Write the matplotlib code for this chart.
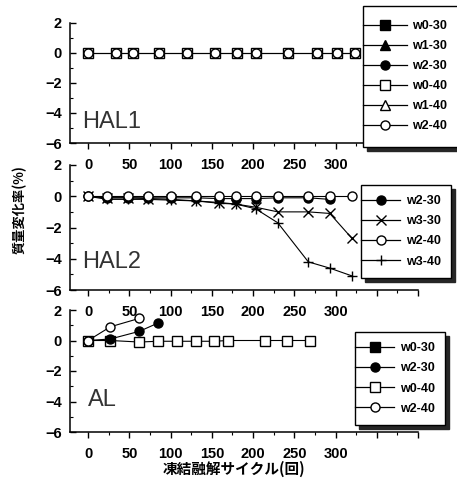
import matplotlib
matplotlib.use("Agg")
import numpy as np
import matplotlib.pyplot as plt
from matplotlib.ticker import MultipleLocator
from matplotlib.lines import Line2D
from matplotlib.legend_handler import HandlerLine2D

plt.rcParams['font.family'] = ['Liberation Sans', 'Noto Sans CJK JP', 'DejaVu Sans']

# ---------------- data ----------------
# HAL1
hal1_x = [0, 34, 55, 86, 120, 154, 181, 204, 242, 277, 302, 324]
hal1_w0_40 = [0, 0, 0, 0, 0, 0, 0, 0, 0, 0, 0, 0]
hal1_w2_40 = [0, 0, 0, 0, 0, 0, 0, 0, 0, 0, 0, 0]

# HAL2
hal2_x = [0, 23, 48, 73, 101, 131, 159, 179, 203, 230, 267, 293, 320]
hal2_w2_30 = [0, -0.1, -0.1, -0.1, -0.1, -0.1, -0.15, -0.15, -0.15, -0.1, -0.1, -0.2]
hal2_w3_30 = [0, -0.1, -0.1, -0.15, -0.2, -0.3, -0.45, -0.5, -0.7, -1.0, -1.0, -1.1, -2.7]
hal2_w2_40 = [0, 0, 0, 0, 0, 0, 0, 0, 0, 0, 0, 0, 0]
hal2_w3_40 = [0, -0.2, -0.2, -0.2, -0.25, -0.3, -0.4, -0.5, -0.8, -1.7, -4.2, -4.6, -5.1]

# AL
al_w0_40_x = [0, 27, 62, 85, 108, 131, 153, 170, 214, 241, 269]
al_w0_40 = [0, 0, -0.1, -0.05, -0.05, -0.05, -0.05, 0, 0, 0, 0]
al_w2_30_x = [0, 27, 62, 85]
al_w2_30 = [0, 0.1, 0.6, 1.15]
al_w2_40_x = [0, 27, 62]
al_w2_40 = [0, 0.9, 1.45]

xticks = [0, 50, 100, 150, 200, 250, 300, 350, 400]
xticklabels = ['0', '50', '100', '150', '200', '250', '300', '', '']
yticks = [-6, -4, -2, 0, 2]
panel_names = ['HAL1', 'HAL2', 'AL']

# ---------------- figure ----------------
W, H = 457, 483
fig = plt.figure(figsize=(W / 100, H / 100), dpi=100)

def fx(px):
    return px / W

def fy(py):
    return 1 - py / H

left = fx(70)
width = fx(418) - fx(70)
panels_px = [(23, 143), (165, 290), (310, 432)]
axes = []
for (top, bot) in panels_px:
    ax = fig.add_axes([left, fy(bot), width, (bot - top) / H])
    axes.append(ax)

tick_font = dict(family='Liberation Sans', weight='bold', size=10.5)

for ax, name in zip(axes, panel_names):
    ax.set_xlim(-22, 400)
    ax.set_ylim(-6, 2)
    for s in ['top', 'right']:
        ax.spines[s].set_visible(False)
    for s in ['left', 'bottom']:
        ax.spines[s].set_linewidth(1.1)
    ax.set_xticks(xticks)
    ax.set_xticklabels(xticklabels, fontdict=tick_font)
    ax.xaxis.set_minor_locator(MultipleLocator(25))
    ax.set_yticks(yticks)
    ax.set_yticklabels([str(v).replace('-', '\u2212') for v in yticks], fontdict=tick_font)
    ax.yaxis.set_minor_locator(MultipleLocator(1))
    ax.tick_params(axis='x', which='major', direction='out', length=4, width=1.0, pad=7)
    ax.tick_params(axis='x', which='minor', direction='out', length=2.5, width=0.8)
    ax.tick_params(axis='y', which='major', direction='in', length=4, width=1.0, pad=6)
    ax.tick_params(axis='y', which='minor', direction='in', length=2.5, width=0.8)
    ax.patch.set_alpha(0)

ms = 6.5
lw = 0.8
open_kw = dict(color='black', lw=lw, markerfacecolor='white', markeredgecolor='black',
               markersize=ms, markeredgewidth=1.0)
fill_kw = dict(color='black', lw=lw, markerfacecolor='black', markeredgecolor='black',
               markersize=ms, markeredgewidth=1.0)

# Panel 1
ax = axes[0]
ax.plot(hal1_x, hal1_w0_40, marker='s', zorder=3, **open_kw)
ax.plot(hal1_x, hal1_w2_40, marker='o', zorder=4, **open_kw)
ax.text(-7, -5.0, 'HAL1', fontsize=17, family='Liberation Sans', color='#333333')

# Panel 2
ax = axes[1]
ax.plot(hal2_x[:len(hal2_w2_30)], hal2_w2_30, marker='o', zorder=2, **fill_kw)
ax.plot(hal2_x, hal2_w3_30, marker='x', zorder=3, **open_kw)
ax.plot(hal2_x, hal2_w3_40, marker='+', zorder=3, **open_kw)
ax.plot(hal2_x, hal2_w2_40, marker='o', zorder=4, **open_kw)
ax.text(-7, -4.6, 'HAL2', fontsize=17, family='Liberation Sans', color='#333333')

# Panel 3
ax = axes[2]
ax.plot(al_w0_40_x, al_w0_40, marker='s', zorder=3, **open_kw)
ax.plot(al_w2_30_x, al_w2_30, marker='o', zorder=4, **fill_kw)
ax.plot(al_w2_40_x, al_w2_40, marker='o', zorder=4, **open_kw)
ax.text(0, -4.3, 'AL', fontsize=17, family='Liberation Sans', color='#333333')

# ---------------- legends ----------------
LEG_FS = 9.0


class ExtHandler(HandlerLine2D):
    """Line handle that reaches left to the legend frame."""
    def __init__(self, ext, **kw):
        super().__init__(**kw)
        self.ext = ext

    def create_artists(self, legend, orig_handle, xdescent, ydescent, width, height,
                       fontsize, trans):
        arts = super().create_artists(legend, orig_handle, xdescent, ydescent, width,
                                      height, fontsize, trans)
        for a in arts:
            xd = np.asarray(a.get_xdata(), dtype=float)
            if len(xd) >= 2:
                x0, x1 = xd[0] - self.ext, xd[-1]
                a.set_xdata(np.linspace(x0, x1, len(xd)))
        return arts


def h(marker, filled):
    kw = dict(fill_kw if filled else open_kw)
    kw['markersize'] = 6.5
    kw['lw'] = 0.9
    return Line2D([], [], marker=marker, **kw)


leg_font = dict(family='Liberation Sans', weight='bold', size=LEG_FS)


def make_legend(ax, handles, labels, anchor, bpad, spacing):
    leg = ax.legend(handles, labels, loc='upper left', bbox_to_anchor=anchor,
                    bbox_transform=fig.transFigure, fancybox=False, framealpha=1,
                    edgecolor='black', handlelength=2.35, handletextpad=0.45,
                    borderaxespad=0, prop=leg_font, labelspacing=spacing, borderpad=bpad,
                    handler_map={Line2D: ExtHandler(bpad * LEG_FS, numpoints=1)},
                    shadow={'color': '0.15', 'alpha': 1, 'ox': 3, 'oy': -3})
    leg.get_frame().set_linewidth(1.0)
    leg.set_zorder(10)
    return leg


make_legend(axes[0],
            [h('s', True), h('^', True), h('o', True), h('s', False), h('^', False), h('o', False)],
            ['w0-30', 'w1-30', 'w2-30', 'w0-40', 'w1-40', 'w2-40'],
            (fx(363), fy(6)), 1.15, 0.64)
make_legend(axes[1],
            [h('o', True), h('x', False), h('o', False), h('+', False)],
            ['w2-30', 'w3-30', 'w2-40', 'w3-40'],
            (fx(361), fy(185)), 0.8, 0.66)
make_legend(axes[2],
            [h('s', True), h('o', True), h('s', False), h('o', False)],
            ['w0-30', 'w2-30', 'w0-40', 'w2-40'],
            (fx(355), fy(332)), 0.8, 0.66)

# ---------------- axis labels ----------------
fig.text(fx(20), fy(210), '質量変化率(%)', rotation=90, ha='center', va='center',
         family=['Noto Sans CJK JP', 'DejaVu Sans'], weight='bold', fontsize=9.5)
fig.text(fx(234), fy(469), '凍結融解サイクル(回)', ha='center', va='center',
         family=['Noto Sans CJK JP', 'DejaVu Sans'], weight='bold', fontsize=10.5)

fig.savefig('out.png', dpi=100)
